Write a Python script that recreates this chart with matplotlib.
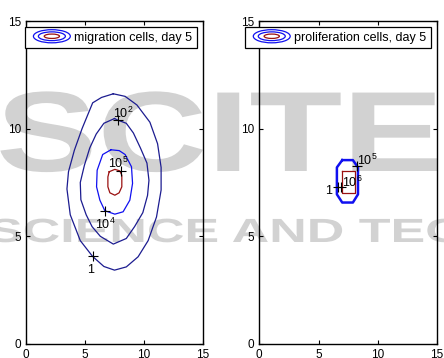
import matplotlib
matplotlib.use("Agg")
import matplotlib.pyplot as plt
from matplotlib.legend_handler import HandlerBase
from matplotlib.patches import Ellipse, PathPatch
from matplotlib.textpath import TextPath
from matplotlib.font_manager import FontProperties
from matplotlib.transforms import Affine2D

plt.rcParams.update({'font.family': 'Liberation Sans',
                     'font.size': 9,
                     'mathtext.default': 'regular',
                     'axes.linewidth': 1.0,
                     'xtick.direction': 'in',
                     'ytick.direction': 'in',
                     'xtick.labelsize': 8.5,
                     'ytick.labelsize': 8.5,
                     })

# migration cells, day 5 : closed iso-lines (x, y)
mig_1_x   = [7.4, 6.4, 5.65, 4.75, 4.1, 3.6, 3.47, 3.75, 4.6, 5.64, 6.6, 7.5, 8.5, 9.5, 10.35, 11.06, 11.45, 11.45, 11.15, 10.5, 9.4, 8.4, 7.4]
mig_1_y   = [11.62, 11.45, 11.2, 10.0, 9.0, 8.0, 7.2, 6.0, 4.8, 4.07, 3.6, 3.43, 3.58, 4.05, 4.8, 5.9, 7.15, 8.2, 9.3, 10.3, 11.1, 11.5, 11.62]
mig_2_x   = [7.5, 6.6, 5.95, 5.4, 4.95, 4.6, 4.65, 5.1, 5.6, 6.3, 7.4, 8.5, 9.2, 9.9, 10.3, 10.42, 10.25, 9.7, 9.1, 8.5, 7.76, 7.5]
mig_2_y   = [10.47, 10.25, 9.75, 9.1, 8.3, 7.5, 6.7, 6.0, 5.45, 5.0, 4.64, 4.9, 5.45, 6.1, 6.9, 7.6, 8.4, 9.1, 9.8, 10.25, 10.4, 10.47]
mig_4_x   = [7.2, 6.5, 6.03, 5.98, 6.26, 6.68, 7.53, 8.23, 8.80, 9.03, 8.94, 8.4, 7.9, 7.2]
mig_4_y   = [9.02, 8.8, 8.07, 7.30, 6.68, 6.19, 6.03, 6.14, 6.68, 7.46, 8.23, 8.8, 8.98, 9.02]
mig_5_x   = [7.05, 7.53, 7.95, 8.12, 8.12, 7.89, 7.53, 7.11, 6.94, 6.94, 7.05]
mig_5_y   = [8.00, 8.11, 8.04, 7.84, 7.30, 7.02, 6.91, 7.02, 7.30, 7.76, 8.00]

# proliferation cells, day 5
pro_lo_x  = [7.0, 7.9, 8.33, 8.33, 7.9, 7.0, 6.55, 6.55, 7.0]
pro_lo_y  = [8.54, 8.54, 8.2, 6.95, 6.57, 6.57, 6.95, 8.2, 8.54]
pro_6_x   = [6.98, 8.05, 8.05, 6.98, 6.98]
pro_6_y   = [8.04, 8.04, 7.0, 7.0, 8.04]

# contour labels: level exponent, marker position
mig_labels = [(0, 5.64, 4.07), (2, 7.76, 10.40), (4, 6.68, 6.19), (5, 8.02, 8.02)]
pro_labels = [(0, 6.62, 7.28), (5, 8.27, 8.26), (6, 6.92, 7.28)]

navy = '#1c1c90'
blue = '#1010f0'
dred = '#9a1010'


class ContourKey(HandlerBase):
    """legend key drawn as three nested iso-lines"""
    def create_artists(self, legend, orig_handle, xdescent, ydescent,
                       width, height, fontsize, trans):
        cx = 0.5*width - xdescent
        cy = 0.5*height - ydescent
        rings = [(0.82, 1.5, blue), (0.6, 1.0, blue), (0.34, 0.5, dred)]
        arts = []
        for fw, fh, col in rings:
            arts.append(Ellipse((cx, cy), width*fw, height*fh, fill=False,
                                edgecolor=col, lw=0.9, transform=trans))
        return arts


def lab(e):
    return "1" if e == 0 else r"$10^{%d}$" % e


def setup(ax, title):
    ax.set_xlim(0, 15)
    ax.set_ylim(0, 15)
    ax.set_xticks([0, 5, 10, 15])
    ax.set_yticks([0, 5, 10, 15])
    ax.tick_params(top=True, right=True, length=3, width=0.8, pad=3.5)
    ax.set_facecolor('none')
    key = plt.Line2D([], [], label=title)
    leg = ax.legend(handles=[key], handler_map={key: ContourKey()},
                    loc='upper right', fancybox=False, framealpha=1,
                    edgecolor='black', borderaxespad=0.5, borderpad=0.35,
                    handlelength=3.6, handletextpad=0.0, fontsize=9)
    leg.get_frame().set_linewidth(0.9)


fig = plt.figure(figsize=(4.44, 3.58), dpi=100)
ax1 = fig.add_axes([26/444, 14/358, 177/444, 323/358])
ax2 = fig.add_axes([259.3/444, 14/358, 177.7/444, 323/358])

# faint publisher watermark behind the panels
bold = FontProperties(family='Liberation Sans', weight='bold')
for word, x0, yb, sx, sy in [("SCITE", -4, 171, 152, 114),
                             ("SCIENCE AND TECHNOLOGY", -12, 242, 52, 33.5)]:
    tp = TextPath((0, 0), word, size=1, prop=bold)
    tr = Affine2D().scale(sx, sy).translate(x0, 358 - yb).scale(1/444, 1/358) + fig.transFigure
    fig.patches.append(PathPatch(tp, facecolor='#d2d2d2', edgecolor='none',
                                 transform=tr, zorder=-5))

ax1.plot(mig_1_x, mig_1_y, color=navy, lw=0.9)
ax1.plot(mig_2_x, mig_2_y, color=navy, lw=0.9)
ax1.plot(mig_4_x, mig_4_y, color=blue, lw=0.9)
ax1.plot(mig_5_x, mig_5_y, color=dred, lw=0.9)

ax2.plot(pro_lo_x, pro_lo_y, color=blue, lw=1.8)
ax2.plot(pro_6_x, pro_6_y, color=dred, lw=0.9)

for ax, labels, offs in [(ax1, mig_labels, {0: (-0.45, -0.75), 2: (-0.4, 0.1), 4: (-0.85, -0.85), 5: (-1.1, 0.15)}),
                         (ax2, pro_labels, {0: (-1.1, -0.3), 5: (0.0, 0.05), 6: (0.05, 0.0)})]:
    for e, mx, my in labels:
        ax.plot(mx, my, marker='+', color='black', ms=7, mew=0.8)
        dx, dy = offs[e]
        ax.text(mx + dx, my + dy, lab(e), fontsize=9, ha='left', va='baseline')

setup(ax1, "migration cells, day 5")
setup(ax2, "proliferation cells, day 5")

fig.savefig("out.png", dpi=100)
